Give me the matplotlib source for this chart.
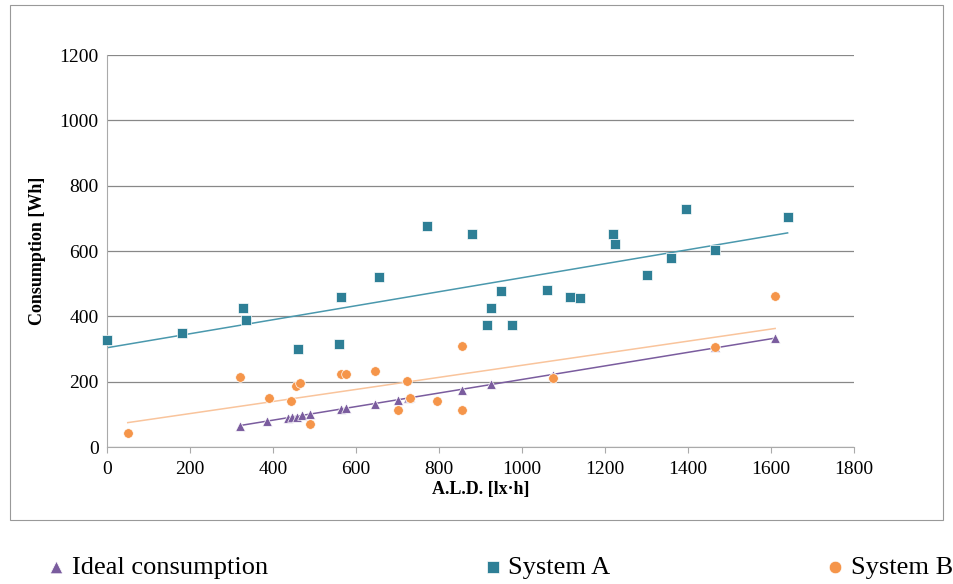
import numpy as np
import matplotlib.pyplot as plt
from matplotlib.patches import Rectangle

plt.rcParams['font.family'] = ['Liberation Serif', 'DejaVu Serif']

# data
ideal_x = [320, 385, 435, 445, 458, 470, 490, 565, 575, 645, 700, 725, 730, 855, 925, 1075, 1465, 1610]
ideal_y = [65, 80, 90, 92, 93, 97, 100, 117, 120, 133, 143, 150, 152, 175, 192, 220, 305, 333]

sysA_x = [0, 180, 327, 335, 460, 560, 565, 655, 770, 880, 915, 925, 950, 975, 1060, 1115, 1140,
          1220, 1225, 1300, 1360, 1395, 1465, 1640]
sysA_y = [327, 350, 427, 390, 300, 315, 460, 520, 678, 652, 375, 425, 477, 372, 480, 460, 457,
          652, 622, 527, 580, 730, 602, 705]

sysB_x = [50, 320, 390, 443, 455, 465, 490, 565, 575, 645, 700, 722, 730, 795, 855, 855, 1075, 1465, 1610]
sysB_y = [42, 215, 150, 142, 188, 195, 70, 222, 225, 232, 112, 202, 150, 140, 308, 112, 210, 305, 462]

fig = plt.figure(figsize=(9.54, 5.84), dpi=100)
ax = fig.add_axes([107/954, 1-447/584, (854-107)/954, (447-55)/584])

fig.patches.append(Rectangle((10/954, 1-520/584), 933/954, 515/584, transform=fig.transFigure,
                             fill=False, edgecolor='#999999', lw=0.8))

series = [(ideal_x, ideal_y, '#7a5c9e', '^', 'Ideal consumption', '#7a5c9e'),
          (sysA_x, sysA_y, '#2e7f96', 's', 'System A', '#4a98ad'),
          (sysB_x, sysB_y, '#f5954a', 'o', 'System B', '#f9c49c')]
handles = []
for x, y, c, m, lab, lc in series:
    x = np.array(x, float); y = np.array(y, float)
    h = ax.scatter(x, y, marker=m, s=48, color=c, edgecolors='white', linewidths=0.5, zorder=3,
                   label=lab, clip_on=False)
    handles.append(h)
    k, b = np.polyfit(x, y, 1)
    xs = np.array([x.min(), x.max()])
    ax.plot(xs, k*xs + b, color=lc, lw=1.1, zorder=2)

ax.set_xlim(0, 1800)
ax.set_ylim(0, 1200)
ax.set_xticks(range(0, 1801, 200))
ax.set_yticks(range(0, 1201, 200))
ax.yaxis.grid(True, color='#888888', lw=0.9)
ax.set_axisbelow(True)
for s in ['top', 'right']:
    ax.spines[s].set_visible(False)
for s in ['left', 'bottom']:
    ax.spines[s].set_color('#aaaaaa')
ax.tick_params(axis='both', labelsize=14, length=0, pad=6)
ax.tick_params(axis='x', length=4, color='#aaaaaa')
ax.set_xlabel('A.L.D. [lx·h]', fontsize=13, fontweight='bold', labelpad=2)
ax.set_ylabel('Consumption [Wh]', fontsize=13, fontweight='bold', labelpad=10)

fig.legend(handles=handles, loc='center', bbox_to_anchor=(0.522, 1-567/584), ncol=3,
           frameon=False, fontsize=19, handletextpad=0.1, handlelength=1.0,
           columnspacing=8.0, markerscale=1.3, borderpad=0, borderaxespad=0)

fig.savefig('out.png', dpi=100)
